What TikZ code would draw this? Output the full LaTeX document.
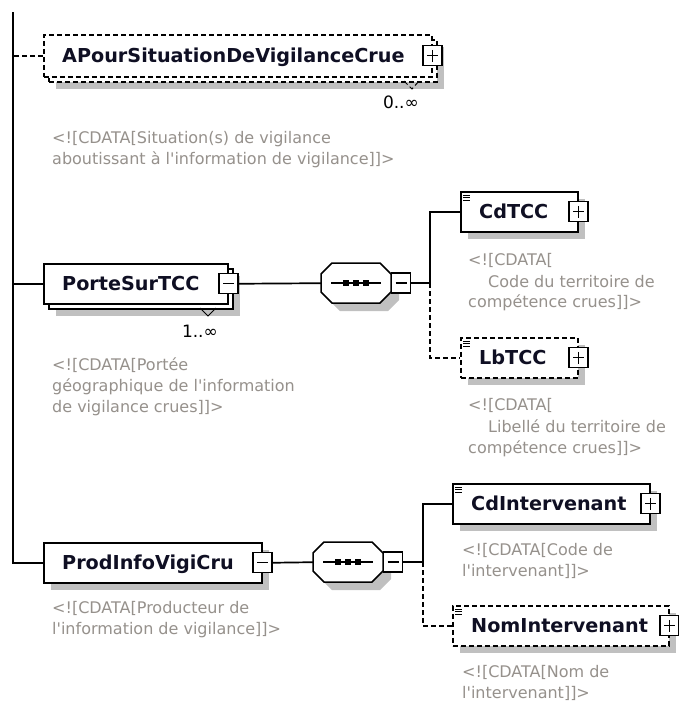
\documentclass[tikz,border=0pt]{standalone}
\usepackage{fontspec}
\newfontfamily\namefont{DejaVu Sans}
\newfontfamily\docfont{DejaVu Sans}
\usetikzlibrary{calc}
\definecolor{shadowgray}{RGB}{192,192,192}
\definecolor{doctext}{RGB}{150,145,140}
\definecolor{nametext}{RGB}{15,15,35}

% sequence compositor: name, left x, top y
\newcommand\seqgroup[3]{%
  \fill[shadowgray] (#2+19,#3+8) -- (#2+67,#3+8) -- (#2+78,#3+19) -- (#2+78,#3+37)
     -- (#2+67,#3+48) -- (#2+19,#3+48) -- (#2+8,#3+37) -- (#2+8,#3+19) -- cycle;
  \node[inner sep=0pt, minimum width=70pt, minimum height=40pt, anchor=north west] (#1) at (#2,#3) {};
  \draw[fill=white, line width=1.5pt] (#2+11,#3) -- (#2+59,#3) -- (#2+70,#3+11) -- (#2+70,#3+29)
     -- (#2+59,#3+40) -- (#2+11,#3+40) -- (#2,#3+29) -- (#2,#3+11) -- cycle;
  \draw[line width=1.2pt] (#2+10,#3+20) -- (#2+60,#3+20);
  \foreach \dx in {25,35,45} \fill (#2+\dx-3,#3+17) rectangle (#2+\dx+3,#3+23);
  \node[minus] (#1m) at (#2+80,#3+20) {};
}
% three-bar mark of a simple-typed element
\newcommand\simplemark[1]{%
  \foreach \dy in {4,6.5,9}
    \draw[line width=0.8pt] ($(#1.north west)+(3,\dy)$) -- +(7,0);
}

\begin{document}
\begin{tikzpicture}[x=1pt,y=-1pt,
  elem/.style={draw, fill=white, line width=1.5pt, rectangle, inner sep=0pt, anchor=north west},
  optional/.style={dash pattern=on 5pt off 3pt},
  shadowbox/.style={fill=shadowgray, rectangle, inner sep=0pt, anchor=north west},
  elemname/.style={anchor=base west, inner sep=0pt, text=nametext, font=\namefont\bfseries\fontsize{19.2}{23}\selectfont},
  docline/.style={anchor=base west, inner sep=0pt, text=doctext, font=\docfont\fontsize{16}{21}\selectfont},
  occurs/.style={anchor=base east, inner sep=0pt, font=\docfont\fontsize{17}{20}\selectfont},
  toggle/.style={draw, fill=white, line width=1.3pt, minimum width=19pt, minimum height=20pt, inner sep=0pt},
  plus/.style={toggle, path picture={
      \draw[line width=1.2pt] ($(path picture bounding box.west)+(4,0)$) -- ($(path picture bounding box.east)+(-4,0)$)
        ($(path picture bounding box.north)+(0,4)$) -- ($(path picture bounding box.south)+(0,-4)$);}},
  minus/.style={toggle, path picture={
      \draw[line width=1.2pt] ($(path picture bounding box.west)+(4,0)$) -- ($(path picture bounding box.east)+(-4,0)$);}},
  link/.style={line width=1.7pt},
  notch/.style={line width=1pt},
]
\useasboundingbox[fill=white] (0,0) rectangle (678,702);
\coordinate (root) at (13,12);

% ---- APourSituationDeVigilanceCrue (0..unbounded, optional) ----
\node[shadowbox, minimum width=388pt, minimum height=42pt] (apourShade) at (56,47) {};
\node[elem, optional, minimum width=388pt, minimum height=42pt] (apourBack) at (48,39) {};
\node[elem, optional, minimum width=388pt, minimum height=42pt] (apour) at (43,34) {};
\node[elemname] (apourName) at (62,62) {APourSituationDeVigilanceCrue};
\node[plus] (apourPlus) at (apour.east) {};
\draw[notch, optional] (404,81) -- (412,89) -- (419,81);
\node[occurs] (apourOcc) at (419,108) {0..∞};
\node[docline] (apourDoc1) at (52,143) {<![CDATA[Situation(s) de vigilance};
\node[docline] (apourDoc2) at (52,164) {aboutissant à l'information de vigilance]]>};

% ---- PorteSurTCC (1..unbounded) ----
\node[shadowbox, minimum width=184pt, minimum height=40pt] (porteShade) at (56,276) {};
\node[elem, minimum width=184pt, minimum height=40pt] (porteBack) at (48,268) {};
\node[elem, minimum width=184pt, minimum height=40pt] (porte) at (43,263) {};
\node[elemname] (porteName) at (62,290) {PorteSurTCC};
\node[minus] (porteMinus) at (porte.east) {};
\draw[notch] (200,308) -- (208,316) -- (216,308);
\node[occurs] (porteOcc) at (218,337) {1..∞};
\node[docline] (porteDoc1) at (52,370) {<![CDATA[Portée};
\node[docline] (porteDoc2) at (52,391) {géographique de l'information};
\node[docline] (porteDoc3) at (52,412) {de vigilance crues]]>};

\seqgroup{seqA}{321}{263}
\coordinate (jA) at (430,283);

% ---- CdTCC ----
\node[shadowbox, minimum width=117pt, minimum height=40pt] (cdtccShade) at (468,199) {};
\node[elem, minimum width=117pt, minimum height=40pt] (cdtcc) at (460,191) {};
\simplemark{cdtcc}
\node[elemname] (cdtccName) at (479,218) {CdTCC};
\node[plus] (cdtccPlus) at (cdtcc.east) {};
\node[docline] (cdtccDoc1) at (468,265) {<![CDATA[};
\node[docline] (cdtccDoc2) at (488,287) {Code du territoire de};
\node[docline] (cdtccDoc3) at (468,307) {compétence crues]]>};

% ---- LbTCC (optional) ----
\node[shadowbox, minimum width=117pt, minimum height=40pt] (lbtccShade) at (468,345) {};
\node[elem, optional, minimum width=117pt, minimum height=40pt] (lbtcc) at (460,337) {};
\simplemark{lbtcc}
\node[elemname] (lbtccName) at (479,364) {LbTCC};
\node[plus] (lbtccPlus) at (lbtcc.east) {};
\node[docline] (lbtccDoc1) at (468,410) {<![CDATA[};
\node[docline] (lbtccDoc2) at (488,432) {Libellé du territoire de};
\node[docline] (lbtccDoc3) at (468,453) {compétence crues]]>};

% ---- ProdInfoVigiCru ----
\node[shadowbox, minimum width=218pt, minimum height=40pt] (prodShade) at (51,550) {};
\node[elem, minimum width=218pt, minimum height=40pt] (prod) at (43,542) {};
\node[elemname] (prodName) at (62,569) {ProdInfoVigiCru};
\node[minus] (prodMinus) at (prod.east) {};
\node[docline] (prodDoc1) at (52,613) {<![CDATA[Producteur de};
\node[docline] (prodDoc2) at (52,634) {l'information de vigilance]]>};

\seqgroup{seqB}{313}{542}
\coordinate (jB) at (423,562);

% ---- CdIntervenant ----
\node[shadowbox, minimum width=197pt, minimum height=40pt] (cdintShade) at (460,491) {};
\node[elem, minimum width=197pt, minimum height=40pt] (cdint) at (452,483) {};
\simplemark{cdint}
\node[elemname] (cdintName) at (471,510) {CdIntervenant};
\node[plus] (cdintPlus) at (cdint.east) {};
\node[docline] (cdintDoc1) at (462,555) {<![CDATA[Code de};
\node[docline] (cdintDoc2) at (462,576) {l'intervenant]]>};

% ---- NomIntervenant (optional) ----
\node[shadowbox, minimum width=216pt, minimum height=40pt] (nomintShade) at (460,613) {};
\node[elem, optional, minimum width=216pt, minimum height=40pt] (nomint) at (452,605) {};
\simplemark{nomint}
\node[elemname] (nomintName) at (471,632) {NomIntervenant};
\node[plus] (nomintPlus) at (nomint.east) {};
\node[docline] (nomintDoc1) at (462,677) {<![CDATA[Nom de};
\node[docline] (nomintDoc2) at (462,698) {l'intervenant]]>};

% ---- connectors ----
\draw[link] (root) |- (prod.west);
\draw[link, optional] (apour.west) -- (apour.west -| root);
\draw[link] (porte.west) -- (porte.west -| root);
\draw[link] (porteMinus.east) -- (seqA.west);
\draw[link] (seqAm.east) -- (jA) |- (cdtcc.west);
\draw[link, optional] (jA) |- (lbtcc.west);
\draw[link] (prodMinus.east) -- (seqB.west);
\draw[link] (seqBm.east) -- (jB) |- (cdint.west);
\draw[link, optional] (jB) |- (nomint.west);
\end{tikzpicture}
\end{document}
